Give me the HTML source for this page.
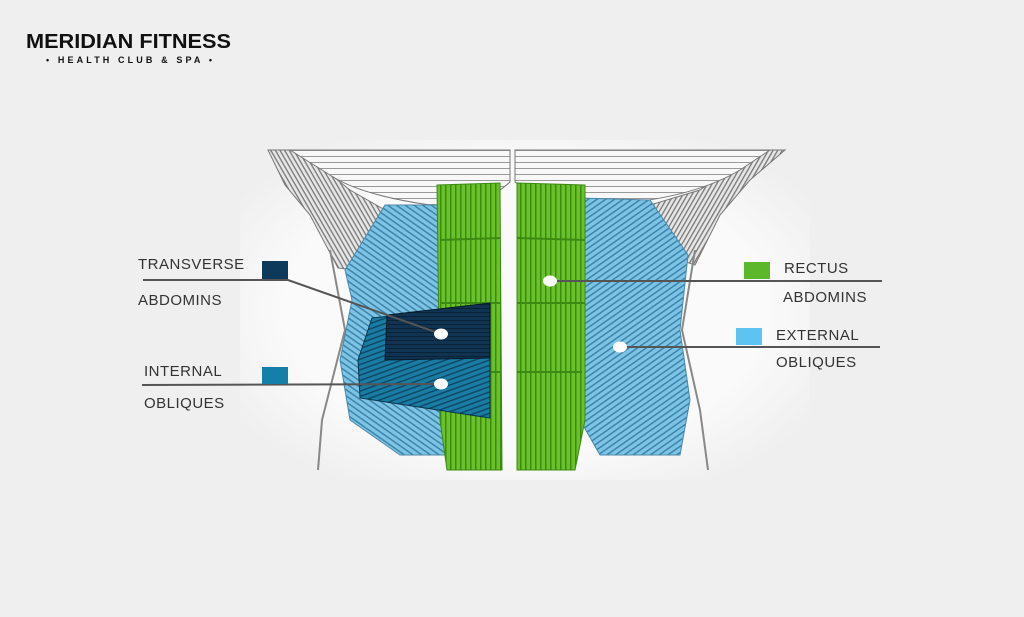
<!DOCTYPE html>
<html><head><meta charset="utf-8"><style>
html,body{margin:0;padding:0;background:#efefef;}
body{width:1024px;height:617px;position:relative;overflow:hidden;font-family:"Liberation Sans",sans-serif;}
</style></head><body>
<svg width="1024" height="617" viewBox="0 0 1024 617" style="position:absolute;left:0;top:0">
<defs>
<pattern id="bl" width="5" height="5" patternUnits="userSpaceOnUse" patternTransform="rotate(35)"><rect width="5" height="5" fill="#7cc4e6"/><rect width="5" height="1.4" fill="#3b7fa4"/></pattern>
<pattern id="br" width="5" height="5" patternUnits="userSpaceOnUse" patternTransform="rotate(-35)"><rect width="5" height="5" fill="#7cc4e6"/><rect width="5" height="1.4" fill="#3b7fa4"/></pattern>
<pattern id="gr" width="5" height="5" patternUnits="userSpaceOnUse"><rect width="5" height="5" fill="#6ac22a"/><rect width="1.5" height="5" fill="#3c8a12"/></pattern>
<pattern id="dk" width="4" height="4" patternUnits="userSpaceOnUse"><rect width="4" height="4" fill="#0f3350"/><rect width="4" height="1" fill="#0a2238"/></pattern>
<pattern id="io" width="5" height="5" patternUnits="userSpaceOnUse" patternTransform="rotate(-20)"><rect width="5" height="5" fill="#1a7ba3"/><rect width="5" height="1.4" fill="#0b4866"/></pattern>
<pattern id="ry" width="6" height="6" patternUnits="userSpaceOnUse"><rect width="6" height="6" fill="#f8f8f8"/><rect width="6" height="1" fill="#999"/></pattern>
<pattern id="sl" width="4" height="4" patternUnits="userSpaceOnUse" patternTransform="rotate(60)"><rect width="4" height="4" fill="#e6e6e6"/><rect width="4" height="1.3" fill="#777"/></pattern>
<pattern id="sr" width="4" height="4" patternUnits="userSpaceOnUse" patternTransform="rotate(-60)"><rect width="4" height="4" fill="#e6e6e6"/><rect width="4" height="1.3" fill="#777"/></pattern>
<radialGradient id="bg" cx="0.5" cy="0.5" r="0.6"><stop offset="0.7" stop-color="#fafafa"/><stop offset="1" stop-color="#efefef"/></radialGradient>
</defs>
<rect x="240" y="140" width="570" height="340" fill="url(#bg)"/>
<!-- serratus -->
<path d="M268 150 L300 150 L350 190 L385 210 L355 270 L338 268 L310 215 L285 185 Z" fill="url(#sl)" stroke="#777"/>
<path d="M785 150 L755 150 L700 190 L650 205 L680 260 L695 265 L720 215 L750 180 Z" fill="url(#sr)" stroke="#777"/>
<!-- pecs -->
<path d="M290 150 L510 150 L510 182 Q480 210 430 205 Q360 195 330 175 Z" fill="url(#ry)" stroke="#777"/>
<path d="M515 150 L770 150 L740 170 Q690 200 600 205 Q545 205 515 182 Z" fill="url(#ry)" stroke="#777"/>
<!-- body outline -->
<path d="M330 250 L345 330 L322 420 L318 470" fill="none" stroke="#888" stroke-width="2"/>
<path d="M695 250 L682 330 L700 410 L708 470" fill="none" stroke="#888" stroke-width="2"/>
<!-- left blue -->
<path d="M385 205 L440 205 L445 455 L400 455 L350 420 L340 360 L352 300 L345 270 Z" fill="url(#bl)" stroke="#4a88a8"/>
<!-- right blue -->
<path d="M580 198 L650 200 L688 255 L680 330 L690 400 L680 455 L600 455 L580 420 Z" fill="url(#br)" stroke="#4a88a8"/>
<!-- green -->
<path d="M437 185 L500 183 L502 470 L447 470 L440 420 Z" fill="url(#gr)" stroke="#3c8a12"/>
<path d="M517 183 L585 185 L585 420 L575 470 L517 470 Z" fill="url(#gr)" stroke="#3c8a12"/>
<g stroke="#3c8a12" stroke-width="2" fill="none">
<path d="M440 240 L500 238 M440 303 L500 303 M445 372 L500 372"/>
<path d="M517 238 L585 240 M517 303 L585 303 M517 372 L582 372"/>
</g>
<!-- internal obliques -->
<path d="M372 318 L490 305 L490 418 L360 398 L358 360 Z" fill="url(#io)" stroke="#0a3550"/>
<!-- transverse -->
<path d="M387 315 L490 303 L490 358 L385 360 Z" fill="url(#dk)" stroke="#061a2a"/>
<!-- lines -->
<g stroke="#555" stroke-width="2" fill="none">
<path d="M143 280 L288 280 L441 334"/>
<path d="M142 385 L441 384"/>
<path d="M550 281 L882 281"/>
<path d="M620 347 L880 347"/>
</g>
<g fill="#fff">
<ellipse cx="441" cy="334" rx="7" ry="5.5"/>
<ellipse cx="441" cy="384" rx="7" ry="5.5"/>
<ellipse cx="550" cy="281" rx="7" ry="5.5"/>
<ellipse cx="620" cy="347" rx="7" ry="5.5"/>
</g>
<rect x="262" y="261" width="26" height="18" fill="#0d3a5a"/>
<rect x="262" y="367" width="26" height="17" fill="#1480a8"/>
<rect x="744" y="262" width="26" height="17" fill="#5cb82a"/>
<rect x="736" y="328" width="26" height="17" fill="#5cc4ee"/>
<g font-family="Liberation Sans, sans-serif" font-size="15" fill="#333" letter-spacing="0.5">
<text x="138" y="269">TRANSVERSE</text>
<text x="138" y="305">ABDOMINS</text>
<text x="144" y="376">INTERNAL</text>
<text x="144" y="408">OBLIQUES</text>
<text x="784" y="273">RECTUS</text>
<text x="783" y="302">ABDOMINS</text>
<text x="776" y="340">EXTERNAL</text>
<text x="776" y="367">OBLIQUES</text>
</g>
<text x="26" y="48" font-family="Liberation Sans, sans-serif" font-weight="bold" font-size="20" fill="#111" textLength="205" lengthAdjust="spacingAndGlyphs">MERIDIAN FITNESS</text>
<text x="46" y="63" font-family="Liberation Sans, sans-serif" font-weight="bold" font-size="9" fill="#111" textLength="166" lengthAdjust="spacing">• HEALTH CLUB &amp; SPA •</text>
</svg>
</body></html>
